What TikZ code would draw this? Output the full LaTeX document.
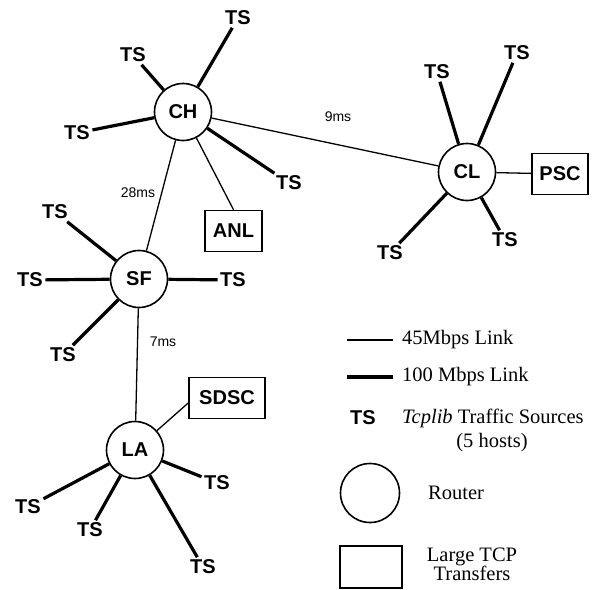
\documentclass[tikz,border=0pt]{standalone}
\usepackage{fontspec}
\setmainfont{Liberation Serif}
\setsansfont{Liberation Sans}
\begin{document}
\begin{tikzpicture}[x=1pt,y=-1pt,
  router/.style={circle,draw,line width=1.6pt,minimum size=57pt,inner sep=0pt,
                 font=\sffamily\bfseries\fontsize{20}{20}\selectfont},
  site/.style={rectangle,draw,line width=1.6pt,minimum height=41pt,inner sep=0pt,
               font=\sffamily\bfseries\fontsize{20}{20}\selectfont},
  src/.style={inner sep=2.5pt,font=\sffamily\bfseries\fontsize{20}{20}\selectfont},
  delay/.style={inner sep=1pt,font=\sffamily\fontsize{14}{14}\selectfont},
  legtext/.style={inner sep=0pt,font=\fontsize{20.5}{22}\selectfont},
  slow/.style={line width=1.3pt},
  fast/.style={line width=3.2pt}]
\useasboundingbox (0,0) rectangle (596,589);

% routers
\node[router] (CH) at (183,112) {CH};
\node[router] (CL) at (467,172) {CL};
\node[router] (SF) at (139,279) {SF};
\node[router] (LA) at (135,450) {LA};

% large TCP transfer sites
\node[site,minimum width=57pt] (ANL) at (233.5,231) {ANL};
\node[site,minimum width=56pt] (PSC) at (560,174) {PSC};
\node[site,minimum width=76pt] (SDSC) at (227,398) {SDSC};

% traffic sources
\node[src] (ch1) at (238,18) {TS};
\node[src] (ch2) at (133,55) {TS};
\node[src] (ch3) at (77,133) {TS};
\node[src] (ch4) at (289,183) {TS};
\node[src] (cl1) at (437,72) {TS};
\node[src] (cl2) at (517,53) {TS};
\node[src] (cl3) at (390,253) {TS};
\node[src] (cl4) at (505,240) {TS};
\node[src] (sf1) at (30,280) {TS};
\node[src] (sf2) at (55,212) {TS};
\node[src] (sf3) at (63,355) {TS};
\node[src] (sf4) at (233,280) {TS};
\node[src] (la1) at (28,507) {TS};
\node[src] (la2) at (90,530) {TS};
\node[src] (la3) at (217,483) {TS};
\node[src] (la4) at (203,567) {TS};

% 100 Mbps access links
\foreach \r/\s in {CH/ch1,CH/ch2,CH/ch3,CH/ch4,CL/cl1,CL/cl2,CL/cl3,CL/cl4,
                   SF/sf1,SF/sf2,SF/sf3,SF/sf4,LA/la1,LA/la2,LA/la3,LA/la4}
  \draw[fast] (\r) -- (\s);

% 45 Mbps backbone and site links
\draw[slow] (CH) -- (CL);
\draw[slow] (CH) -- (SF);
\draw[slow] (SF) -- (LA);
\draw[slow] (CH) -- (ANL.north);
\draw[slow] (CL) -- (PSC);
\draw[slow] (LA) -- ([yshift=-5pt]SDSC.west);

% delays
\node[delay] (d1) at (338,117) {9ms};
\node[delay] (d2) at (138,193) {28ms};
\node[delay] (d3) at (163,342) {7ms};

% legend
\coordinate (k1a) at (347,340); \coordinate (k1b) at (393,340);
\coordinate (k2a) at (347,377); \coordinate (k2b) at (393,377);
\draw[slow] (k1a) -- (k1b);
\draw[fast] (k2a) -- (k2b);
\node[legtext,anchor=west] (t1) at (402,340) {45Mbps Link};
\node[legtext,anchor=west] (t2) at (402,377) {100 Mbps Link};
\node[src] (kts) at (363,418) {TS};
\node[legtext,anchor=west] (t3) at (402,418) {\textit{Tcplib} Traffic Sources};
\node[legtext] (t4) at (492,443) {(5 hosts)};
\node[router,minimum size=59pt] (krt) at (370,493) {};
\node[legtext,anchor=west] (t5) at (428,493) {Router};
\node[site,minimum width=62pt,minimum height=42pt] (kbox) at (371,567) {};
\node[legtext,align=center,font=\fontsize{20.5}{19}\selectfont] (t6) at (472,564) {Large TCP\\Transfers};
\end{tikzpicture}
\end{document}
